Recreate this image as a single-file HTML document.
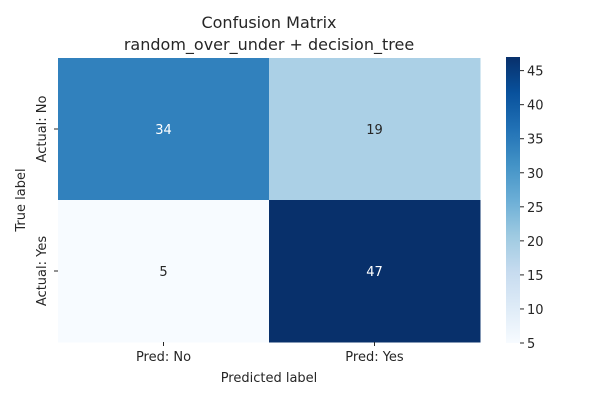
<!DOCTYPE html>
<html><head><meta charset="utf-8"><style>
body{margin:0;background:#fff;}
svg text{font-family:"DejaVu Sans","Liberation Sans",sans-serif;fill:#262626;}
</style></head><body>
<svg id="chart" width="600" height="400" viewBox="0 0 600 400">
<text x="269" y="28" text-anchor="middle" font-size="16">Confusion Matrix</text>
<text x="269" y="50" text-anchor="middle" font-size="16">random_over_under + decision_tree</text>
<g id="cells"></g>
<g id="cbar"></g>
<text x="269" y="382" text-anchor="middle" font-size="13">Predicted label</text>
<text transform="translate(25,200) rotate(-90)" text-anchor="middle" font-size="13">True label</text>
</svg>
<script>
const xLabels = ["Pred: No", "Pred: Yes"];
const yLabels = ["Actual: No", "Actual: Yes"];
const values = [[34, 19], [5, 47]];
const cbarTicks = [5, 10, 15, 20, 25, 30, 35, 40, 45];

const NS = "http://www.w3.org/2000/svg";
const stops = ["#f7fbff","#deebf7","#c6dbef","#9ecae1","#6baed6","#4292c6","#2171b5","#08519c","#08306b"];
const flat = values.flat();
const vmin = Math.min(...flat), vmax = Math.max(...flat);
function hex(c){return [1,3,5].map(i=>parseInt(c.substr(i,2),16));}
function color(v){
  let t=(v-vmin)/(vmax-vmin); t=Math.max(0,Math.min(1,t));
  const p=t*(stops.length-1); const i=Math.min(Math.floor(p),stops.length-2); const f=p-i;
  const a=hex(stops[i]), b=hex(stops[i+1]);
  return "rgb("+a.map((x,k)=>Math.round(x+(b[k]-x)*f)).join(",")+")";
}
const L=58,R=480,T=58,B=342;
const cw=(R-L)/xLabels.length, ch=(B-T)/yLabels.length;
function mk(tag,attrs,parent){const e=document.createElementNS(NS,tag);for(const k in attrs)e.setAttribute(k,attrs[k]);parent.appendChild(e);return e;}
const cells=document.getElementById("cells");
values.forEach((row,r)=>row.forEach((v,c)=>{
  const rect=mk("rect",{x:L+c*cw,y:T+r*ch,width:cw+0.5,height:ch+0.5,fill:color(v)},cells);
  
  
  const t=mk("text",{x:L+(c+0.5)*cw,y:T+(r+0.5)*ch+5,"text-anchor":"middle","font-size":"13"},cells);
  t.style.fill=((v-vmin)/(vmax-vmin)>0.5)?"#ffffff":"#262626";
  t.textContent=v;
  
  
}));
xLabels.forEach((lab,i)=>{
  const x=L+(i+0.5)*cw;
  const tk=mk("line",{x1:x,x2:x,y1:B,y2:B+4,stroke:"#262626"},cells);
  
  
  const t=mk("text",{x:x,y:B+19,"text-anchor":"middle","font-size":"13"},cells);
  t.textContent=lab;
  
  
});
yLabels.forEach((lab,i)=>{
  const y=T+(i+0.5)*ch;
  const tk=mk("line",{x1:L-4,x2:L,y1:y,y2:y,stroke:"#262626"},cells);
  
  
  const t=mk("text",{transform:"translate("+(L-12)+","+y+") rotate(-90)","text-anchor":"middle","font-size":"13"},cells);
  t.textContent=lab;
  
  
});
const cb=document.getElementById("cbar");
const CX=506,CW=14,CT=57,CB=343;
const grad=mk("linearGradient",{id:"g",x1:0,y1:1,x2:0,y2:0},mk("defs",{},cb));
stops.forEach((s,i)=>mk("stop",{offset:i/(stops.length-1),"stop-color":s},grad));
const bar=mk("rect",{x:CX,y:CT,width:CW,height:CB-CT,fill:"url(#g)"},cb);


function cy(v){return CB-(v-vmin)/(vmax-vmin)*(CB-CT);}
cbarTicks.forEach(v=>{
  const y=cy(v);
  const tk=mk("line",{x1:CX+CW,x2:CX+CW+4,y1:y,y2:y,stroke:"#262626"},cb);
  
  
  const t=mk("text",{x:CX+CW+7,y:y+5,"font-size":"13"},cb);
  t.textContent=v;
  
  
});
</script>
</body></html>
